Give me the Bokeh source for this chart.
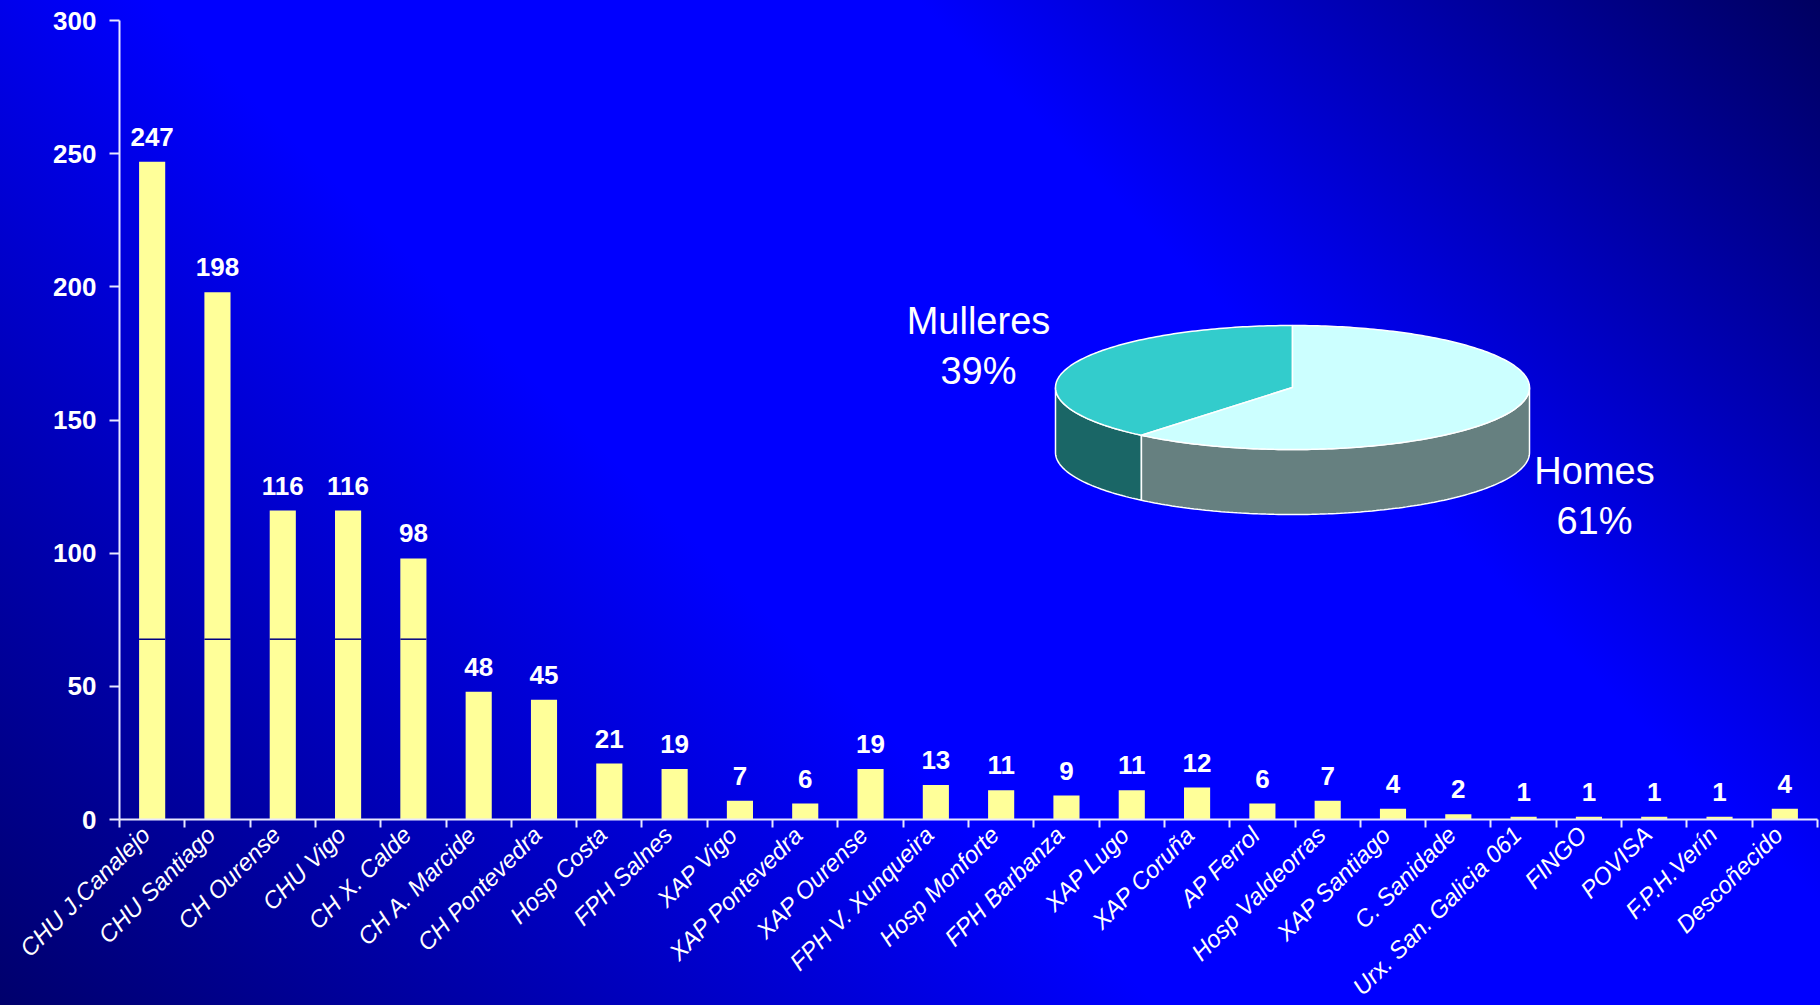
import math
from bokeh.plotting import figure
from bokeh.models import (Range1d, LinearAxis, FixedTicker, ColumnDataSource,
                          LabelSet)
from bokeh.core.properties import value
from bokeh.embed import file_html
from bokeh.resources import INLINE

# ---------------- data ----------------
categories = ["CHU J.Canalejo", "CHU Santiago", "CH Ourense", "CHU Vigo",
              "CH X. Calde", "CH A. Marcide", "CH Pontevedra", "Hosp Costa",
              "FPH Salnes", "XAP Vigo", "XAP Pontevedra", "XAP Ourense",
              "FPH V. Xunqueira", "Hosp Monforte", "FPH Barbanza", "XAP Lugo",
              "XAP Coruña", "AP Ferrol", "Hosp Valdeorras", "XAP Santiago",
              "C. Sanidade", "Urx. San. Galicia 061", "FINGO", "POVISA",
              "F.P.H.Verín", "Descoñecido"]
counts = [247, 198, 116, 116, 98, 48, 45, 21, 19, 7, 6, 19, 13, 11, 9, 11,
          12, 6, 7, 4, 2, 1, 1, 1, 1, 4]
y_ticks = [0, 50, 100, 150, 200, 250, 300]

pie_labels = ["Mulleres", "Homes"]
pie_shares = [39, 61]

mark_value = 67.7      # thin dark line visible across the first bars
mark_bars = 5

# ---------------- layout / style ----------------
PAGE_W, PAGE_H = 1820, 1005
L, R, T, B = 119, 1817, 20, 819
FW, FH = R - L, B - T

FONT = "Liberation Sans"
BAR_COLOR = "#FFFF99"
AXIS_COLOR = "#E8E8FF"
PIE_TOP = ["#33CCCC", "#CCFFFF"]
PIE_SIDE = ["#1A6666", "#668080"]
PIE_CX, PIE_CY, PIE_RX, PIE_RY, PIE_DEPTH = 1292, 387, 237, 62, 65
PIE_LABEL_POS = [(978, 333), (1594, 483)]
PIE_LINE_GAP = 50
LABEL_SHIFT = 0.1      # category-name anchor sits a little left of centre

BACKGROUND = ("linear-gradient(45deg, #00006C 0%, #0000FF 41%, "
              "#0000FF 68%, #000060 100%)")

n = len(categories)
centers = [i + 0.5 for i in range(n)]
boundaries = list(range(n + 1))
label_ticks = [c - LABEL_SHIFT for c in centers]

p = figure(x_range=Range1d(0, n), y_range=Range1d(0, 300),
           frame_width=FW, frame_height=FH,
           min_border_left=L, min_border_right=PAGE_W - R,
           min_border_top=T, min_border_bottom=PAGE_H - B,
           output_backend="svg", toolbar_location=None,
           x_axis_location=None, y_axis_location="left")

p.styles = {
    "position": "fixed", "top": "0px", "left": "0px",
    "background": BACKGROUND,
    "background-size": f"{PAGE_W}px {PAGE_H}px",
    "background-repeat": "no-repeat",
}
p.background_fill_color = None
p.border_fill_color = None
p.outline_line_color = None
p.xgrid.visible = False
p.ygrid.visible = False

p.extra_x_ranges = {"px": Range1d(L, R)}
p.extra_y_ranges = {"px": Range1d(B, T)}

# y axis
ya = p.yaxis[0]
ya.ticker = FixedTicker(ticks=y_ticks)
ya.axis_line_color = AXIS_COLOR
ya.axis_line_width = 2
ya.major_tick_line_color = AXIS_COLOR
ya.major_tick_line_width = 2
ya.major_tick_out = 10
ya.major_tick_in = 0
ya.minor_tick_line_color = None
ya.major_label_standoff = 13
ya.major_label_text_font = FONT
ya.major_label_text_font_style = "bold"
ya.major_label_text_font_size = "26px"
ya.major_label_text_color = "white"

# x axis: names at (shifted) centres, minor ticks at category boundaries
xa = LinearAxis(ticker=FixedTicker(ticks=label_ticks, minor_ticks=boundaries),
                major_label_overrides={t: name for t, name in zip(label_ticks, categories)})
xa.axis_line_color = AXIS_COLOR
xa.axis_line_width = 2
xa.major_tick_line_color = None
xa.major_tick_out = 0
xa.major_tick_in = 0
xa.minor_tick_line_color = AXIS_COLOR
xa.minor_tick_line_width = 2
xa.minor_tick_out = 8
xa.minor_tick_in = 0
xa.major_label_standoff = 3
xa.major_label_orientation = math.pi / 4
xa.major_label_text_font = FONT
xa.major_label_text_font_style = "italic"
xa.major_label_text_font_size = "24px"
xa.major_label_text_color = "white"
p.add_layout(xa, "below")

# bars
src = ColumnDataSource(dict(x=centers, val=counts,
                            label=[str(v) for v in counts]))
p.vbar(x="x", top="val", width=0.4, source=src,
       fill_color=BAR_COLOR, line_color=None)

# thin dark line across first bars
p.segment(x0=[c - 0.2 for c in centers[:mark_bars]],
          x1=[c + 0.2 for c in centers[:mark_bars]],
          y0=[mark_value] * mark_bars, y1=[mark_value] * mark_bars,
          line_color="#000080", line_width=1.5)

labels = LabelSet(x="x", y="val", text="label", source=src, y_offset=16,
                  text_align="center", text_baseline="alphabetic",
                  text_font=value(FONT), text_font_style="bold",
                  text_font_size="26px", text_color="white")
p.add_layout(labels)

# ---------------- 3D pie ----------------
def ell(theta, dy=0.0):
    t = math.radians(theta)
    return PIE_CX + PIE_RX * math.cos(t), PIE_CY - PIE_RY * math.sin(t) + dy

def arc(a0, a1, dy=0.0, step=1.0):
    m = max(2, int(abs(a1 - a0) / step) + 1)
    pts = [ell(a0 + (a1 - a0) * k / (m - 1), dy) for k in range(m)]
    return [q[0] for q in pts], [q[1] for q in pts]

total = float(sum(pie_shares))
angles = [90.0]
for s in pie_shares:
    angles.append(angles[-1] + 360.0 * s / total)

side_xs, side_ys, side_cols = [], [], []
top_xs, top_ys = [], []
for i in range(len(pie_shares)):
    a0, a1 = angles[i], angles[i + 1]
    for k in (0.0, 360.0):
        lo, hi = max(a0, 180.0 + k), min(a1, 360.0 + k)
        if hi > lo:
            tx, ty = arc(lo, hi)
            bx, by = arc(hi, lo, PIE_DEPTH)
            side_xs.append(tx + bx)
            side_ys.append(ty + by)
            side_cols.append(PIE_SIDE[i])
    ax, ay = arc(a0, a1)
    top_xs.append([PIE_CX] + ax)
    top_ys.append([PIE_CY] + ay)

p.patches(side_xs, side_ys, fill_color=side_cols, line_color="white",
          line_width=1.5, x_range_name="px", y_range_name="px")
p.patches(top_xs, top_ys, fill_color=PIE_TOP, line_color="white",
          line_width=1.5, x_range_name="px", y_range_name="px")

pie_src = ColumnDataSource(dict(
    x=[q[0] for q in PIE_LABEL_POS],
    y1=[q[1] for q in PIE_LABEL_POS],
    y2=[q[1] + PIE_LINE_GAP for q in PIE_LABEL_POS],
    name=pie_labels,
    pct=[f"{s}%" for s in pie_shares]))
for ycol, tcol in (("y1", "name"), ("y2", "pct")):
    p.add_layout(LabelSet(x="x", y=ycol, text=tcol, source=pie_src,
                          x_range_name="px", y_range_name="px",
                          text_align="center", text_baseline="alphabetic",
                          text_font=value(FONT), text_font_size="38px",
                          text_color="white"))

with open("out.html", "w", encoding="utf-8") as f:
    f.write(file_html(p, INLINE))
